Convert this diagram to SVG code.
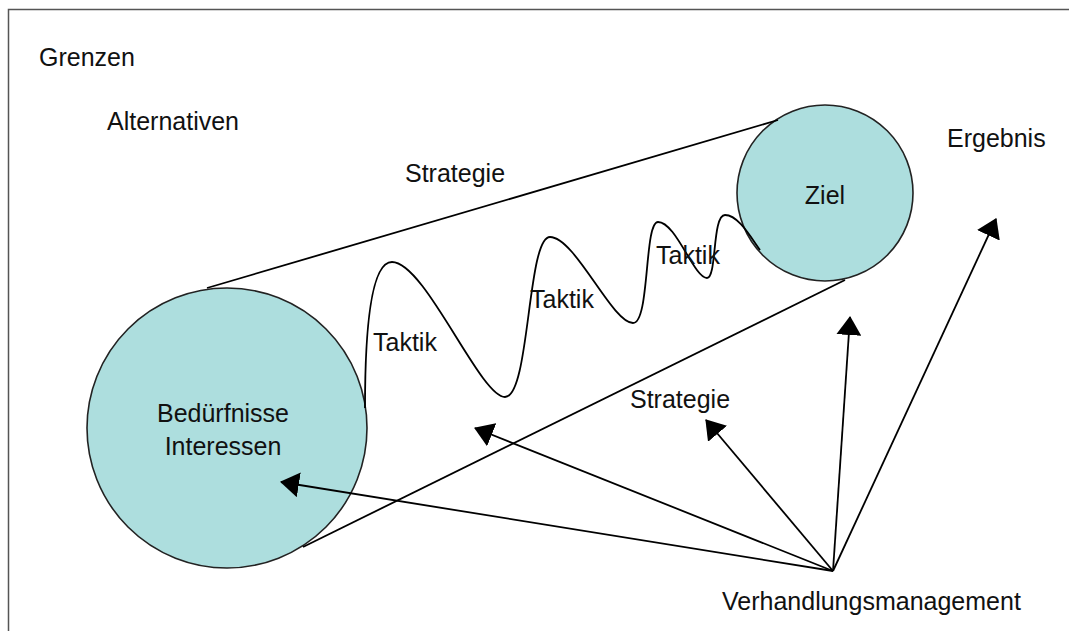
<svg xmlns="http://www.w3.org/2000/svg" width="1069" height="631" viewBox="0 0 1069 631">
<style>
.lbl{font-family:"Liberation Sans",Arial,sans-serif;font-size:25px;fill:#111}
.node{fill:#ADDEDE;stroke:#222;stroke-width:1.6}
.ln{fill:none;stroke:#000;stroke-width:1.8}
.arr{fill:none;stroke:#000;stroke-width:1.8;marker-end:url(#ah)}
</style>
<defs>
<marker id="ah" viewBox="0 0 19 25" refX="18" refY="12.5" markerWidth="19" markerHeight="25" markerUnits="userSpaceOnUse" orient="auto">
<path d="M0,0 L19,12.5 L0,25 z" fill="#000"/>
</marker>
</defs>
<rect width="1069" height="631" fill="#fff"/>
<path d="M8.5,631 L8.5,9.5 L1069,9.5" fill="none" stroke="#555" stroke-width="1.5"/>
<g id="node-beduerfnisse">
<circle class="node" cx="227" cy="428" r="140"/>
<text class="lbl" x="223" y="422" text-anchor="middle">Bedürfnisse</text>
<text class="lbl" x="223" y="455" text-anchor="middle">Interessen</text>
</g>
<g id="node-ziel">
<circle class="node" cx="825" cy="193" r="88"/>
<text class="lbl" x="825" y="204" text-anchor="middle">Ziel</text>
</g>
<g id="connectors">
<line class="ln" x1="207" y1="288" x2="778" y2="120"/>
<line class="ln" x1="303" y1="547" x2="845" y2="280"/>
<path class="ln" d="M365,408 C365,330 371,262 392,262 C425,262 480,397 505,397 C530,397 527,237 550,237 C575,237 612,323 633,323 C650,323 644,222 658,222 C676,222 694,278 707,278 C717,278 712,215 725,215 C738,215 750,236 760,250"/>
<line class="arr" x1="833" y1="571" x2="281" y2="482"/>
<line class="arr" x1="833" y1="571" x2="475" y2="428"/>
<line class="arr" x1="833" y1="571" x2="706" y2="420"/>
<line class="arr" x1="833" y1="571" x2="850" y2="317"/>
<line class="arr" x1="833" y1="571" x2="996" y2="219"/>
</g>
<g id="labels">
<text class="lbl" x="39" y="66">Grenzen</text>
<text class="lbl" x="107" y="130">Alternativen</text>
<text class="lbl" x="405" y="182">Strategie</text>
<text class="lbl" x="947" y="147">Ergebnis</text>
<text class="lbl" x="373" y="351">Taktik</text>
<text class="lbl" x="530" y="308">Taktik</text>
<text class="lbl" x="656" y="264">Taktik</text>
<text class="lbl" x="630" y="408">Strategie</text>
<text class="lbl" x="722" y="610">Verhandlungsmanagement</text>
</g>
</svg>
